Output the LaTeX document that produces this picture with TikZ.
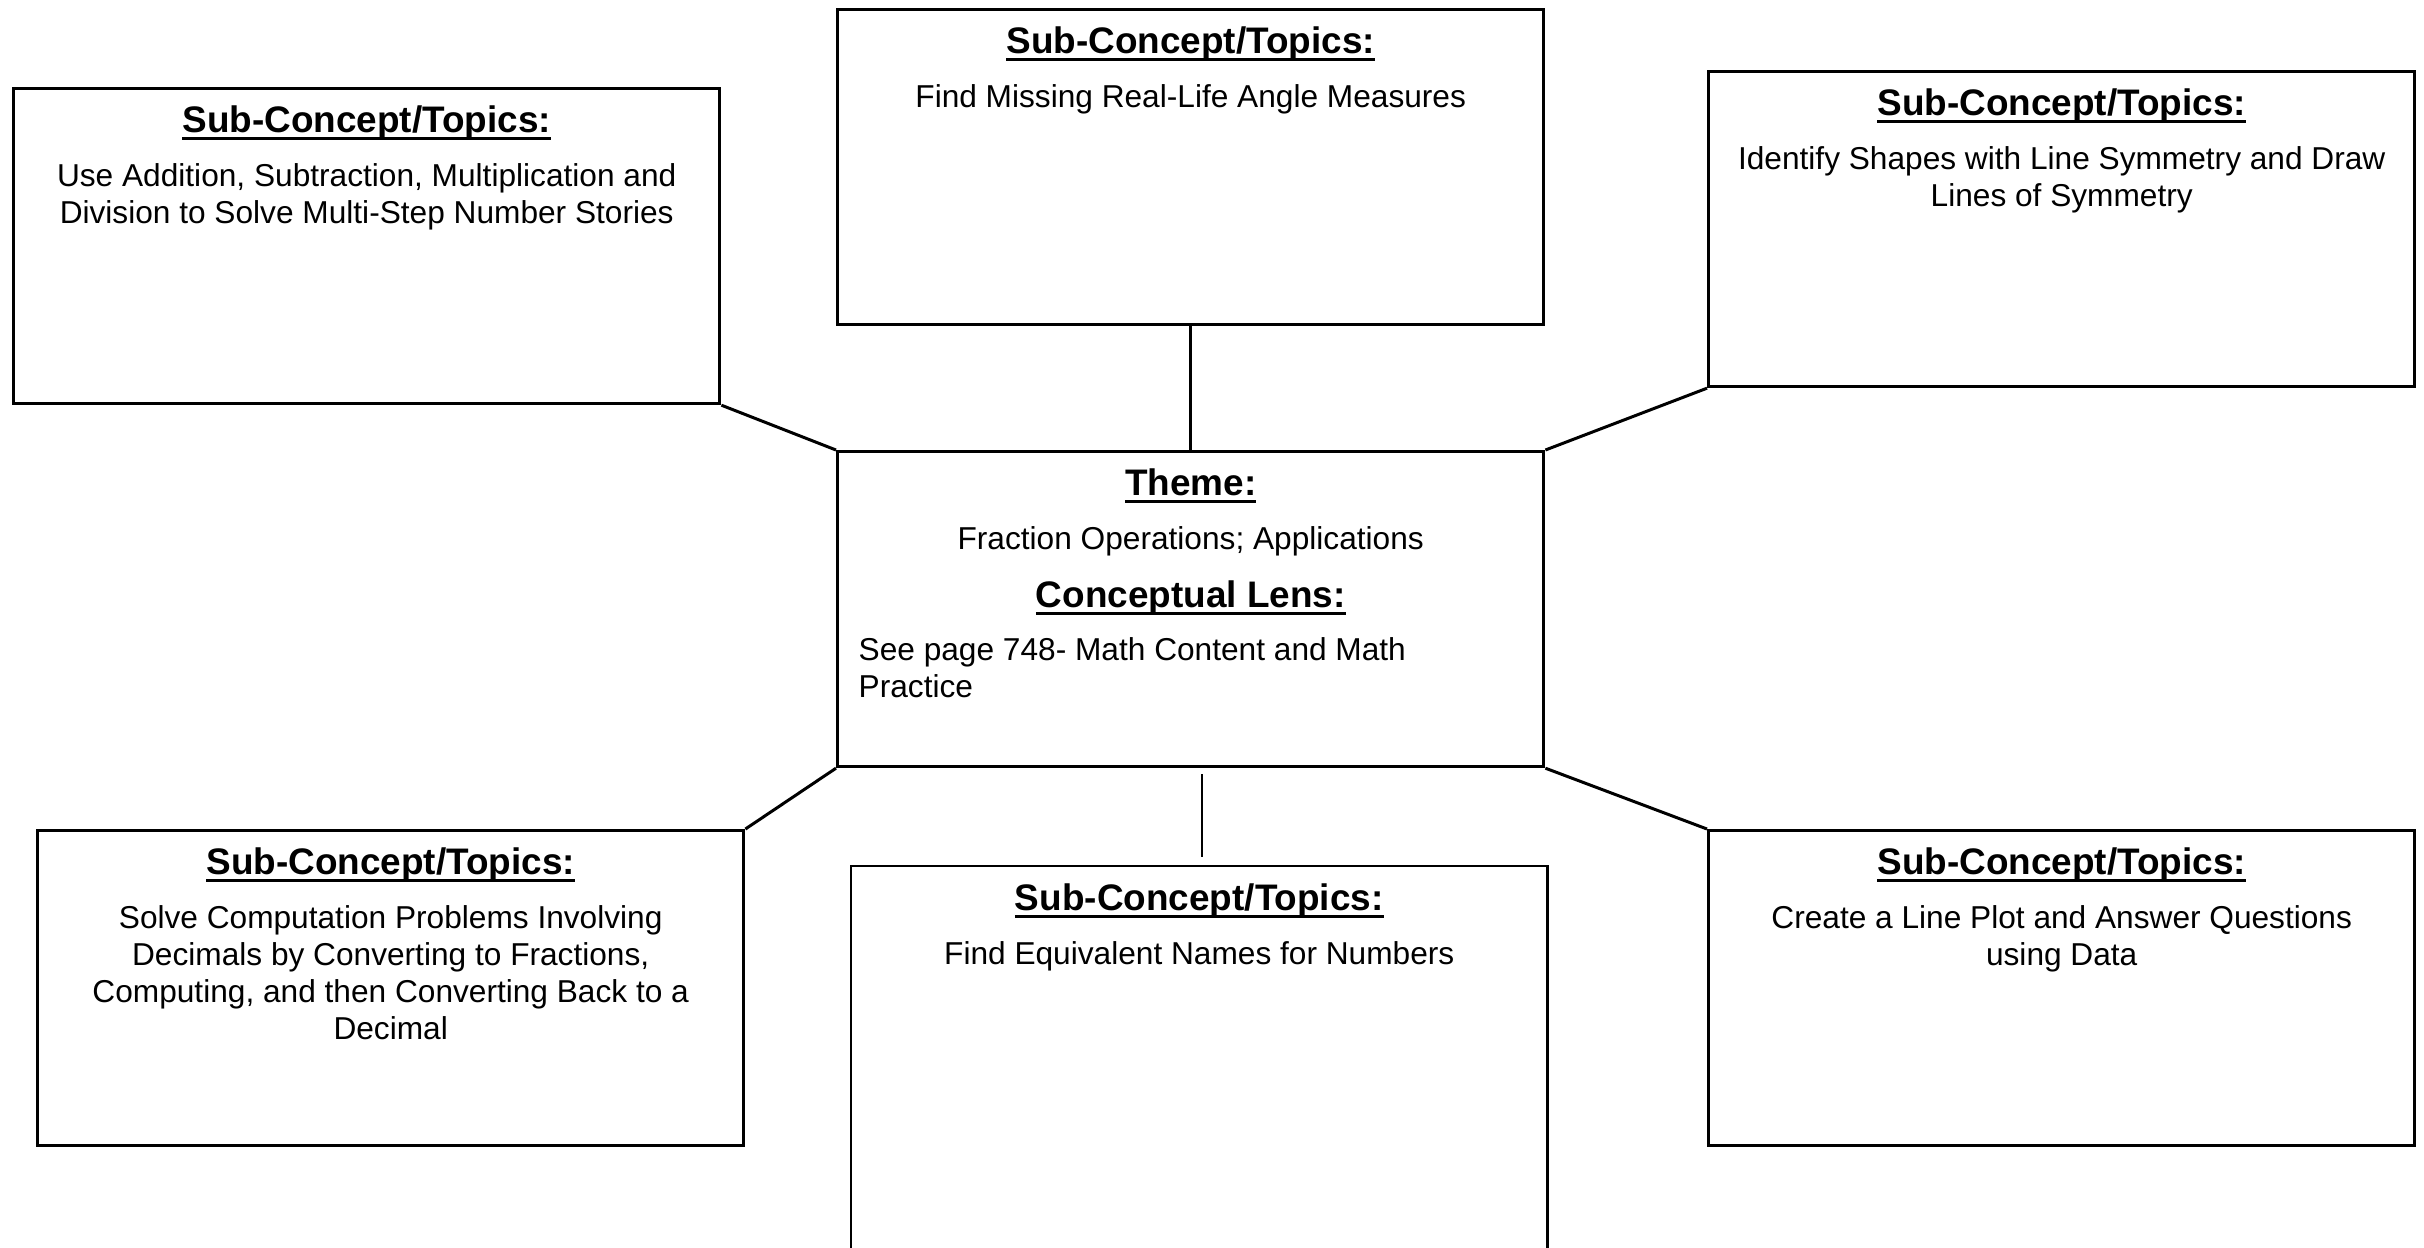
\documentclass[tikz,border=0pt]{standalone}
\usepackage{fontspec}
\setmainfont{Liberation Sans}
\usepackage{tikz}
\usetikzlibrary{positioning}

\newcommand{\headline}[1]{\setbox0\hbox{#1}\rlap{\rule[-2.3pt]{\wd0}{0.8pt}}\box0}

\begin{document}
\begin{tikzpicture}[x=0.01cm, y=-0.01cm,
        topicbox/.style={draw, line width=0.85pt, minimum width=7.06cm, minimum height=3.15cm, inner sep=0, anchor=north west},
        boxtitle/.style={font=\fontsize{10.5}{12}\selectfont\bfseries, inner sep=0, anchor=base},
        boxtext/.style={font=\fontsize{9}{10.5}\selectfont, align=center, inner sep=0, anchor=north}]
        \useasboundingbox (0,0) rectangle (2424,1247);
        \clip (0,0) rectangle (2424,1247);
        % boxes
        \node[topicbox] (tl) at (12,87){};
        \node[topicbox] (tc) at (836,8){};
        \node[topicbox] (tr) at (1707,70){};
        \node[topicbox] (theme) at (836,450){};
        \node[topicbox] (bl) at (36,829){};
        \node[topicbox, line width=0.6pt, minimum width=6.96cm, minimum height=4.2cm] (bc) at (850,865){};
        \node[topicbox] (br) at (1707,829){};
        % connectors
        \draw[line width=0.85pt](tl.south east)--(theme.north west);
        \draw[line width=0.85pt](tc.south)--(theme.north);
        \draw[line width=0.85pt](theme.north east)--(tr.south west);
        \draw[line width=0.85pt](theme.south west)--(bl.north east);
        \draw[line width=0.85pt](theme.south east)--(br.north west);
        \coordinate (gapA) at (1202,774);
        \coordinate (gapB) at (1202,857);
        \draw[line width=0.5pt](gapA)--(gapB);
        % texts
        \node[boxtitle] (tlh) at ([yshift=-0.45cm]tl.north){\headline{Sub-Concept/Topics:}};
        \node[boxtext] (tlt) at ([yshift=-0.76cm]tl.north){Use Addition, Subtraction, Multiplication and\\Division to Solve Multi-Step Number Stories};
        \node[boxtitle] (tch) at ([yshift=-0.45cm]tc.north){\headline{Sub-Concept/Topics:}};
        \node[boxtext] (tct) at ([yshift=-0.76cm]tc.north){Find Missing Real-Life Angle Measures};
        \node[boxtitle] (trh) at ([yshift=-0.45cm]tr.north){\headline{Sub-Concept/Topics:}};
        \node[boxtext] (trt) at ([yshift=-0.76cm]tr.north){Identify Shapes with Line Symmetry and Draw\\Lines of Symmetry};
        \node[boxtitle] (themeh) at ([yshift=-0.45cm]theme.north){\headline{Theme:}};
        \node[boxtext] (themet) at ([yshift=-0.76cm]theme.north){Fraction Operations; Applications};
        \node[boxtitle] (lensh) at ([yshift=-1.57cm]theme.north){\headline{Conceptual Lens:}};
        \node[boxtext, align=left, anchor=north west] (lenst) at ([xshift=0.22cm, yshift=-1.87cm]theme.north west){See page 748- Math Content and Math\\Practice};
        \node[boxtitle] (blh) at ([yshift=-0.45cm]bl.north){\headline{Sub-Concept/Topics:}};
        \node[boxtext] (blt) at ([yshift=-0.76cm]bl.north){Solve Computation Problems Involving\\Decimals by Converting to Fractions,\\Computing, and then Converting Back to a\\Decimal};
        \node[boxtitle] (bch) at ([yshift=-0.45cm]bc.north){\headline{Sub-Concept/Topics:}};
        \node[boxtext] (bct) at ([yshift=-0.76cm]bc.north){Find Equivalent Names for Numbers};
        \node[boxtitle] (brh) at ([yshift=-0.45cm]br.north){\headline{Sub-Concept/Topics:}};
        \node[boxtext] (brt) at ([yshift=-0.76cm]br.north){Create a Line Plot and Answer Questions\\using Data};
    \end{tikzpicture}
\end{document}
